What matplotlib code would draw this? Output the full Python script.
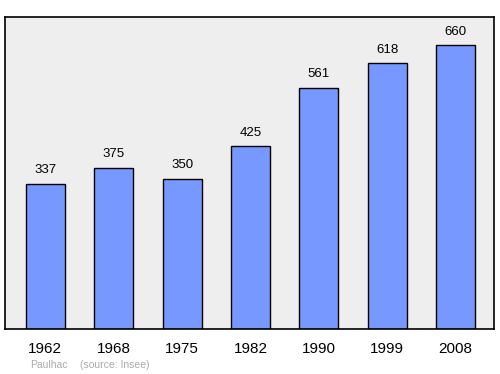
import matplotlib
matplotlib.use("Agg")
from matplotlib import pyplot as plt
import numpy

plt.rcParams["font.family"] = ["Liberation Sans", "DejaVu Sans"]

years = ["1962", "1968", "1975", "1982", "1990", "1999", "2008"]
population = [337, 375, 350, 425, 561, 618, 660]

fig = plt.figure(figsize=(5, 3.74), dpi=100)
ax = fig.add_axes([0.01, 0.1203, 0.978, 0.834])
ax.set_facecolor("#eeeeee")

x = numpy.arange(len(years))
ax.bar(x, population, width=0.57, color="#7799ff", edgecolor="black", linewidth=1)
for xi, v in zip(x, population):
    ax.text(xi, v + 18, str(v), ha="center", va="bottom", fontsize=9.5, color="black")

ax.set_xlim(-0.59, 6.56)
ax.set_ylim(0, 726)
ax.set_yticks([])
ax.set_xticks(x)
ax.set_xticklabels(years, fontsize=11)
ax.tick_params(axis="x", length=0, pad=9)
for s in ax.spines.values():
    s.set_linewidth(1.2)

fig.text(0.06, 0.025, "Paulhac", fontsize=7.5, color="#aaaaaa", ha="left", va="center")
fig.text(0.16, 0.025, "(source: Insee)", fontsize=7.5, color="#aaaaaa", ha="left", va="center")

fig.savefig("out.png", dpi=100)
